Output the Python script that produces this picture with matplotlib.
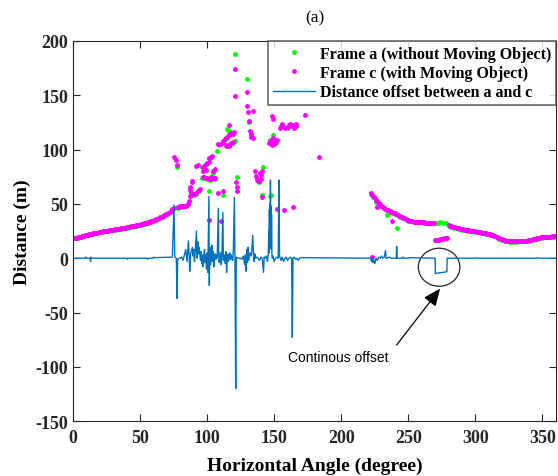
import numpy as np
import matplotlib.pyplot as plt
from matplotlib.patches import Ellipse

plt.rcParams['font.family'] = 'Liberation Serif'
plt.rcParams['axes.unicode_minus'] = False

# frame c (with moving object), 1 degree steps on the smooth parts
c_left_start = 0
c_left = [18.5, 18.6, 18.8, 19.0, 19.3, 19.6, 19.9, 20.2, 20.6, 21.0,
          21.3, 21.7, 22.0, 22.3, 22.6, 22.9, 23.1, 23.4, 23.6, 23.9,
          24.1, 24.3, 24.6, 24.8, 25.0, 25.3, 25.5, 25.7, 26.0, 26.2,
          26.3, 26.5, 26.7, 26.9, 27.1, 27.3, 27.5, 27.7, 27.9, 28.2,
          28.5, 28.7, 28.9, 29.2, 29.4, 29.7, 29.9, 30.2, 30.5, 30.7,
          31.0, 31.3, 31.6, 32.0, 32.3, 32.7, 33.1, 33.5, 33.9, 34.4,
          34.9, 35.4, 35.9, 36.5, 37.0, 37.6, 38.2, 38.9, 39.6, 40.3,
          41.1, 42.0, 42.9, 43.9, 45.0, 46.0]
c_right_start = 222
c_right = [60.0, 58.5, 57.0, 55.5, 54.0, 52.5, 51.0, 49.5, 48.5, 47.5,
           46.5, 45.5, 44.5, 44.0, 43.5, 43.0, 42.5, 42.0, 41.3, 40.6,
           40.0, 39.3, 38.6, 38.0, 37.3, 36.7, 36.0, 35.5, 35.0, 34.5,
           34.2, 34.0, 33.8, 33.6, 33.4, 33.3, 33.2, 33.1, 33.0, 33.0,
           32.9, 32.8, 32.7, 32.6, 32.5, 32.4, 32.3, 32.2, 16.5, 16.6,
           16.8, 17.0, 17.3, 17.6, 17.9, 18.2, 18.6, 19.0, 30.2, 29.8,
           29.4, 29.0, 28.6, 28.3, 28.0, 27.7, 27.4, 27.1, 26.8, 26.5,
           26.2, 26.0, 25.8, 25.6, 25.4, 25.2, 25.0, 24.8, 24.6, 24.4,
           24.2, 24.0, 23.8, 23.6, 23.4, 23.2, 23.0, 22.7, 22.3, 21.9,
           21.5, 21.0, 20.5, 20.0, 19.5, 19.0, 18.5, 18.0, 17.5, 17.0,
           16.6, 16.2, 16.0, 15.8, 15.7, 15.6, 15.6, 15.6, 15.7, 15.7,
           15.8, 15.8, 15.9, 16.0, 16.0, 16.1, 16.2, 16.4, 16.6, 16.9,
           17.2, 17.5, 17.8, 18.1, 18.4, 18.7, 19.0, 19.2, 19.4, 19.5,
           19.6, 19.7, 19.8, 19.8, 19.9, 20.0, 20.0, 20.1, 20.1]
c_extra = [(75.5, 93), (76.5, 90), (77.5, 86),
           (78, 47), (79, 47.5), (80, 48), (81, 48), (82, 48), (83, 48.5), (84, 48.5),
           (85, 49), (86, 50), (86.5, 53), (87, 57), (87, 63), (87.5, 66), (88.5, 71), (89, 70),
           (88, 60), (89, 59), (90, 59), (91, 59), (92, 60), (93, 62), (94, 63), (95, 64),
           (92, 85), (93, 86), (97, 84), (98, 85), (99, 87), (100, 88), (101, 89),
           (101.5, 92), (102.5, 93), (103.5, 94),
           (97, 75), (98, 75), (99, 74), (100, 74), (101, 73), (102, 73), (103, 75),
           (104, 74), (105, 74), (106, 74), (97, 80), (99, 81), (104, 80), (106, 82),
           (108, 105), (110, 105), (112, 108), (113, 110), (114, 111), (115, 112),
           (116, 113), (117, 114), (118, 115), (119, 114), (120, 116), (116, 123),
           (114, 104), (115, 103), (116, 103), (117, 105), (118, 106), (119, 107),
           (121, 174), (121, 149), (122, 66), (122.5, 62), (121.5, 70),
           (101.5, 35), (110, 34), (112, 62), (108, 60),
           (129.6, 153), (130, 140), (130.6, 135), (134, 135.6), (131.5, 126),
           (132, 117), (132.5, 114), (133, 112), (134, 111),
           (136, 80), (136.5, 76), (137, 73), (138, 71), (139, 71), (140, 73),
           (140.5, 77), (141, 80), (139.5, 78), (141, 56),
           (146, 106), (147, 108), (148, 107), (149, 106), (150, 105), (151, 107),
           (152, 109), (149, 111), (150, 110), (148, 104), (148.5, 131), (148.8, 128),
           (154, 120), (155, 122), (156, 124), (157, 121), (158, 120), (160, 121),
           (161, 123), (162, 124), (163, 123), (164, 121), (165, 120), (166, 122),
           (166.5, 124), (152, 45), (157, 44), (164, 47), (173, 132), (183.5, 93),
           (223, 1), (226.6, 47), (238, 34)]

# frame a (without moving object), 2 degree steps on the smooth parts
a_left_start = 0
a_left = [18.2, 18.5, 19.0, 19.6, 20.3, 21.0, 21.6, 22.2, 22.8, 23.2,
          23.8, 24.3, 24.7, 25.1, 25.6, 26.0, 26.2, 26.6, 27.0, 27.4,
          28.1, 28.6, 29.1, 29.6, 30.1, 30.6, 31.2, 31.9, 32.6, 33.5,
          34.5, 35.5, 36.6, 37.8, 39.2, 40.7, 42.5, 44.6]
a_right_start = 222
a_right = [59.5, 56.5, 53.5, 50.5, 48.0, 46.0, 44.0, 43.0, 42.0, 41.0,
           39.6, 38.2, 37.0, 35.7, 34.7, 33.9, 33.5, 33.2, 33.0, 32.9,
           32.7, 32.5, 32.4, 32.3, 32.6, 32.8, 33.0, 32.8, 32.2, 30.0,
           29.0, 28.2, 27.6, 27.0, 26.4, 25.8, 25.4, 25.0, 24.6, 24.3,
           23.8, 23.4, 23.0, 22.6, 21.9, 21.1, 20.1, 19.1, 18.1, 17.1,
           16.2, 15.6, 15.3, 15.2, 15.3, 15.4, 15.5, 15.6, 15.8, 16.2,
           16.8, 17.4, 18.0, 18.6, 19.0, 19.2, 19.4, 19.5, 19.6, 19.7]
a_extra = [(77.5, 84), (78, 46), (80, 47), (82, 47.5), (84, 48), (86, 49.5),
           (88, 58), (90, 58), (92, 59), (94, 62), (96, 84), (98, 84), (100, 87),
           (102, 92), (96, 74), (98, 74), (100, 73), (102, 72), (104, 73), (106, 73),
           (101.5, 62), (104, 78), (107, 99), (109, 104), (112, 107), (114.6, 119),
           (116, 117), (118, 114), (121, 108), (112, 58), (122, 75), (121, 188),
           (114, 103), (117, 104), (119, 106), (129.6, 165), (131, 125), (133, 113),
           (137, 72), (139, 70), (142, 84), (141, 58), (147, 57), (147.5, 58),
           (149, 113), (147, 109), (151, 106), (164, 123), (160, 120), (156, 123),
           (226, 51.5), (234, 40), (241.5, 27.5)]

# distance offset between a and c
offset = [(0, 0), (9, 0), (9.5, 1), (10, 0), (12.5, 0), (13, -3), (13.3, 1), (13.6, 0),
          (40, 0), (40.5, -1), (41, 0), (55, 0), (55.5, -1), (56, 0), (59.5, 0), (60, 1),
          (60.5, 0.5), (74, 1), (75.3, 49), (75.8, 1), (77, 0), (77.5, -37), (78, -1),
          (79, 0), (80, 0), (81, 1), (82, -2), (83, 3), (84, 8), (85, -3), (86, 16),
          (86.5, 4), (87, -12), (87.5, 2), (88, 6), (89, 10), (89.5, 2), (90, 8),
          (90.5, -3), (91, 5), (92, 25), (92.5, 0), (93, 15), (93.5, 4), (94, 10),
          (95, -2), (95.5, 6), (96, -5), (96.5, 3), (97, -8), (97.5, 2), (98, 8),
          (98.5, -4), (99, 3), (99.5, -10), (100, 5), (100.5, -13), (101.3, 57),
          (101.6, -25), (101.9, 3), (102.2, 10), (102.5, -6), (103, 4), (103.5, 12),
          (104, -3), (104.5, 6), (105, -8), (105.5, 2), (106, 4), (106.5, -1), (107, 3),
          (107.5, 0), (108.3, 46), (108.7, 2), (109, -4), (109.5, 1), (110, 5), (110.5, -6),
          (111, 2), (111.7, 42), (112.1, -2), (112.5, 0), (113, 3), (113.5, -5),
          (114, 6), (114.5, -13), (115, 2), (115.5, 4), (116, -3), (117, 5), (117.5, -1),
          (118, 3), (118.5, 0), (119, -2), (119.5, 7), (120.3, 56), (120.7, 0), (121.3, -120),
          (121.7, 0), (122, 1), (123, 0), (125, 0), (126, -1), (127, 2), (128, -6),
          (128.5, 3), (129, -12), (129.5, 8), (130, -4), (130.5, 10), (131, -2), (132, 5),
          (133, 2), (134, 21), (134.5, 6), (135, -3), (135.5, 4), (136, 0), (137, 1),
          (138, 0), (139, -2), (140, 1), (141, 0), (142, -13), (142.5, 1), (143, 0),
          (144, 2), (145, -3), (145.5, 3), (146, 25), (146.2, 5), (146.4, 45), (146.6, 10),
          (146.8, 50), (147, 20), (147.2, 72), (147.4, 15), (147.6, 48), (147.8, 8),
          (148, 40), (148.3, 3), (148.6, 0), (149, 2), (150, -3), (151, 0), (152, 1),
          (153, 0), (153.5, 72), (154, 2), (154.5, 0), (155, -2), (156, 1), (157, -3),
          (158, 0), (159, 1), (160, -2), (161, 0), (162, 1), (163, 0), (163.5, -73),
          (164, 0), (165, 1), (166, -1), (167, 0), (168, -2), (169, 0), (170, 0.5),
          (222, 0), (222.5, -3), (223, 0), (223.5, -4), (224, -1), (225, -5), (226, 0),
          (227, -2), (228, 1), (229, 0), (230, 2), (231, 0), (232, 1), (233, 7),
          (233.5, 0), (234, 0), (236, 1), (237, 0), (241, 0), (241.3, 11), (241.7, 0),
          (245, 0), (246, 1), (247, 0), (250, 0), (251, 0.5), (270, 0), (270.2, -14),
          (278.8, -12.5), (279, 0), (300, 0), (301, 0.5), (302, 0), (345, 0), (346, 0.5),
          (347, 0), (360, 0)]

ca = np.concatenate([np.arange(len(c_left)) + c_left_start,
                     np.arange(len(c_right)) + c_right_start,
                     [p[0] for p in c_extra]])
cd = np.concatenate([c_left, c_right, [p[1] for p in c_extra]])
aa = np.concatenate([np.arange(len(a_left)) * 2 + a_left_start,
                     np.arange(len(a_right)) * 2 + a_right_start,
                     [p[0] for p in a_extra]])
ad = np.concatenate([a_left, a_right, [p[1] for p in a_extra]])
oa = [p[0] for p in offset]
od = [p[1] for p in offset]

fig = plt.figure(figsize=(5.58, 4.77), dpi=100)
ax = fig.add_axes([0.131, 0.115, 0.865, 0.797])

ax.plot(aa, ad, '.', color='#00ff00', ms=5, label='Frame a (without Moving Object)')
ax.plot(ca, cd, '.', color='#ff00ff', ms=5, label='Frame c (with Moving Object)')
ax.plot(oa, od, '-', color='#0072BD', lw=1.0, label='Distance offset between a and c')

# annotation for the moving object
ax.add_patch(Ellipse((273, -8.3), 31, 35, fill=False, ec='#222222', lw=0.9))
ax.annotate('', xy=(275, -26), xytext=(240, -82),
            arrowprops=dict(arrowstyle='-|>,head_length=0.7,head_width=0.3',
                            color='black', lw=0.9, mutation_scale=15))
ax.text(160.5, -91, 'Continous offset', fontsize=10, family='Liberation Sans',
        ha='left', va='center')

ax.set_xlim(0, 360)
ax.set_ylim(-150, 200)
ax.set_xticks(np.arange(0, 351, 50))
ax.set_yticks(np.arange(-150, 201, 50))
ax.tick_params(direction='in', top=True, right=True, length=5, width=0.8,
               labelsize=13, colors='#262626')
ax.tick_params(axis='x', pad=6)
for lbl in ax.get_xticklabels() + ax.get_yticklabels():
    lbl.set_fontweight('bold')
for s in ax.spines.values():
    s.set_color('#262626')
    s.set_linewidth(0.8)

ax.set_xlabel('Horizontal Angle (degree)', fontsize=14, fontweight='bold', labelpad=7)
ax.set_ylabel('Distance (m)', fontsize=14, fontweight='bold', labelpad=3)
ax.set_title('(a)', fontsize=12.5, pad=14)

leg = ax.legend(loc='upper right', borderaxespad=0, fancybox=False,
                prop={'weight': 'bold', 'size': 11.5}, handlelength=2.6,
                handletextpad=0.3, labelspacing=0.2, borderpad=0.3, markerscale=1.0)
leg.get_frame().set_edgecolor('#444444')
leg.get_frame().set_linewidth(1.2)

fig.savefig('out.png', dpi=100)
